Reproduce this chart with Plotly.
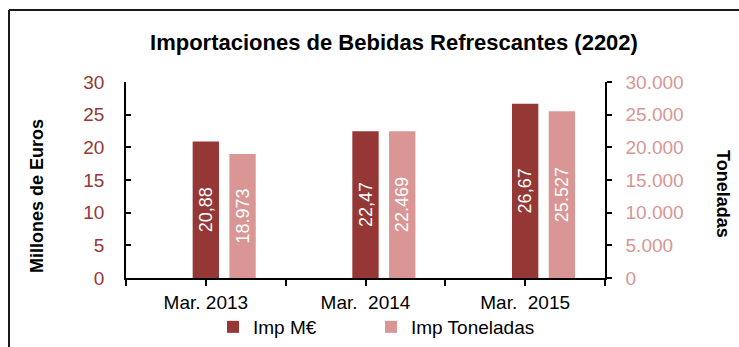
import plotly.graph_objects as go

# Import data for soft drinks (HS 2202), March of each year
categories = ["Mar. 2013", "Mar.  2014", "Mar.  2015"]
imp_meur = [20.88, 22.47, 26.67]        # millions of euros
imp_ton = [18973, 22469, 25527]         # tonnes

series_names = ["Imp M€", "Imp Toneladas"]
left_ticks = [0, 5, 10, 15, 20, 25, 30]
right_ticks = [0, 5000, 10000, 15000, 20000, 25000, 30000]

DARK = "#953735"
LIGHT = "#D99694"
FONT = "Liberation Sans, Arial, sans-serif"

W, H = 739, 347
ML, MR, MT, MB = 126, 134, 82, 69
PW = W - ML - MR
PH = H - MT - MB

xpos = list(range(len(categories)))
bar_w = 0.165

fig = go.Figure()
fig.add_trace(go.Bar(
    x=xpos, y=imp_meur, name=series_names[0],
    marker=dict(color=DARK, line=dict(width=0)),
    width=bar_w, offset=-bar_w / 2,
    texttemplate="%{y:.2f}", textposition="inside", insidetextanchor="middle",
    textangle=-90, constraintext="none",
    insidetextfont=dict(color="white", size=18, family=FONT),
    yaxis="y", hoverinfo="skip", legend="legend",
))
fig.add_trace(go.Bar(
    x=xpos, y=imp_ton, name=series_names[1],
    marker=dict(color=LIGHT, line=dict(width=0)),
    width=bar_w, offset=-bar_w / 2 + 0.23,
    texttemplate="%{y:,.0f}", textposition="inside", insidetextanchor="middle",
    textangle=-90, constraintext="none",
    insidetextfont=dict(color="white", size=18, family=FONT),
    yaxis="y2", hoverinfo="skip", legend="legend2",
))

legend_style = dict(
    orientation="h", xref="container", y=1 - 327 / H, yref="container",
    xanchor="left", yanchor="middle",
    font=dict(size=19, color="black", family=FONT),
    itemwidth=30, bgcolor="rgba(0,0,0,0)",
)

fig.update_layout(
    width=W, height=H,
    margin=dict(l=ML, r=MR, t=MT, b=MB, pad=0, autoexpand=False),
    paper_bgcolor="white", plot_bgcolor="white",
    separators=",.",
    barmode="overlay",
    font=dict(family=FONT, color="black"),
    title=dict(
        text="<b>Importaciones de Bebidas Refrescantes (2202)</b>",
        x=394 / W, xanchor="center", y=1 - 42 / H, yanchor="middle",
        font=dict(size=22, color="black", family=FONT),
    ),
    xaxis=dict(
        range=[-0.5, len(categories) - 0.5],
        tickvals=xpos, ticktext=categories,
        ticks="outside", ticklen=6, tickwidth=1.5, tickcolor="black",
        minor=dict(tickvals=[i - 0.5 for i in range(len(categories) + 1)],
                   ticks="outside", ticklen=6, tickwidth=1.5, tickcolor="black"),
        showline=True, linecolor="black", linewidth=1.5,
        showgrid=False, zeroline=False,
        tickfont=dict(size=19, color="black"),
        automargin=False,
    ),
    yaxis=dict(
        range=[0, 30], tickvals=left_ticks,
        ticks="inside", ticklen=5, tickwidth=1.5, tickcolor="black",
        showline=True, linecolor="black", linewidth=1.5,
        showgrid=False, zeroline=False,
        tickfont=dict(size=19, color=DARK),
        ticklabelstandoff=16, automargin=False,
    ),
    yaxis2=dict(
        range=[0, 30000], tickvals=right_ticks, tickformat=",.0f",
        overlaying="y", side="right",
        ticks="outside", ticklen=5, tickwidth=1.5, tickcolor="black",
        showline=True, linecolor="black", linewidth=1.5,
        showgrid=False, zeroline=False,
        tickfont=dict(size=19, color=LIGHT),
        ticklabelstandoff=10, automargin=False,
    ),
    legend=dict(x=213 / W, **legend_style),
    legend2=dict(x=371 / W, **legend_style),
    showlegend=True,
)

# Axis titles
fig.add_annotation(
    text="<b>Millones de Euros</b>", textangle=-90,
    xref="paper", yref="paper", x=(37 - ML) / PW, y=(H - MB - 196) / PH,
    xanchor="center", yanchor="middle", showarrow=False,
    font=dict(size=18, color="black", family=FONT),
)
fig.add_annotation(
    text="<b>Toneladas</b>", textangle=90,
    xref="paper", yref="paper", x=(723 - ML) / PW, y=(H - MB - 194) / PH,
    xanchor="center", yanchor="middle", showarrow=False,
    font=dict(size=18, color="black", family=FONT),
)

# Chart frame (top and left edges)
def px_x(v):
    return (v - ML) / PW

def px_y(v):
    return (H - MB - v) / PH

frame = dict(type="line", xref="paper", yref="paper",
             line=dict(color="#1a1a1a", width=2))
fig.add_shape(**frame, x0=px_x(9), y0=px_y(10), x1=px_x(W + 2), y1=px_y(10))
fig.add_shape(**frame, x0=px_x(9), y0=px_y(10), x1=px_x(9), y1=px_y(H + 2))

fig.write_html("out.html")
